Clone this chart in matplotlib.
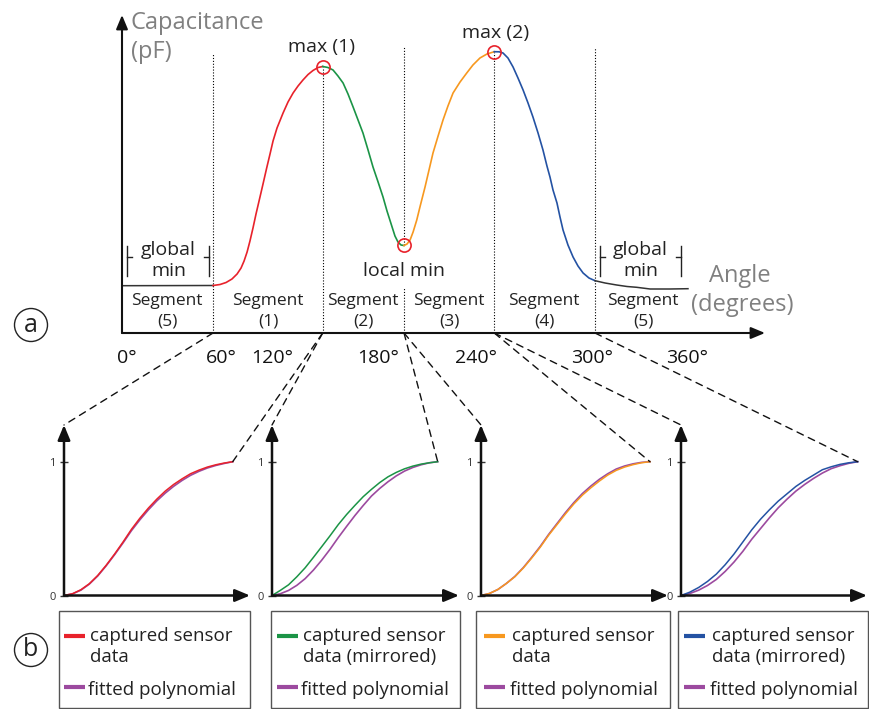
import matplotlib
matplotlib.use("Agg")
import matplotlib.pyplot as plt
from matplotlib.patches import Rectangle, Circle, ConnectionPatch

plt.rcParams['font.family'] = ['Open Sans', 'DejaVu Sans']

# ---- top chart: capacitance vs angle ----
seg5a_deg = [2.8, 60.0]
seg5a_cap = [4.73, 4.75]

seg1_deg = [60.0, 64.4, 68.2, 71.9, 75.1, 77.6, 79.5, 81.4, 83.2, 85.1, 87.0, 89.5, 91.4,
            93.7, 95.8, 97.7, 100.2, 104.0, 107.1, 110.3, 113.4, 116.5, 119.7, 122.8, 126.0, 128.9]
seg1_cap = [4.75, 4.85, 5.05, 5.4, 5.9, 6.5, 7.2, 8.1, 9.2, 10.5, 11.9, 13.6, 14.9,
            16.5, 17.9, 19.2, 20.5, 22.0, 23.1, 24.0, 24.7, 25.3, 25.85, 26.25, 26.55, 26.65]

seg2_deg = [128.9, 132.2, 135.4, 138.5, 141.7, 144.8, 148.0, 151.1, 154.2, 157.4, 160.5,
            163.7, 166.8, 169.3, 172.3, 174.3, 176.2, 178.1, 180.0]
seg2_cap = [26.65, 26.55, 26.3, 25.7, 25.0, 23.9, 22.6, 21.3, 20.0, 18.3, 16.6,
            15.1, 13.6, 12.2, 10.7, 9.7, 9.1, 8.8, 8.75]

seg3_deg = [180.0, 181.9, 183.8, 185.7, 188.0, 190.0, 193.2, 195.7, 198.2, 201.4, 204.5,
            207.6, 210.8, 215.2, 219.4, 223.3, 227.7, 232.1, 236.7]
seg3_cap = [8.75, 8.9, 9.3, 10.1, 11.3, 12.6, 14.6, 16.3, 18.0, 19.7, 21.3,
            22.7, 24.0, 25.1, 26.0, 26.8, 27.5, 27.9, 28.13]

seg4_deg = [236.7, 239.7, 242.2, 245.3, 248.5, 251.6, 254.8, 257.9, 261.0, 264.2, 267.3, 269.8,
            271.7, 273.6, 276.1, 278.0, 279.9, 283.0, 286.2, 289.3, 292.5, 296.2, 300.0]
seg4_cap = [28.13, 28.12, 28.0, 27.5, 26.6, 25.5, 24.3, 23.0, 21.6, 20.0, 18.3, 16.7,
            15.6, 14.3, 13.0, 11.6, 10.3, 8.8, 7.6, 6.7, 6.0, 5.5, 5.23]

seg5b_deg = [300.0, 306.3, 313.6, 320.1, 326.2, 334.6, 347.1, 358.4]
seg5b_cap = [5.23, 5.0, 4.8, 4.65, 4.57, 4.4, 4.4, 4.43]

extrema_deg = [128.9, 180.0, 236.7]
extrema_cap = [26.65, 8.75, 28.13]

bound_deg = [60.0, 128.9, 180.0, 236.7, 300.0]
bound_top = [28.0, 26.65, 28.6, 28.13, 28.6]

angle_labels = ['0°', '60°', '120°', '180°', '240°', '300°', '360°']
angle_label_px = [127, 221, 272, 378, 476, 592, 687]

seg_names = ['(5)', '(1)', '(2)', '(3)', '(4)', '(5)']
seg_label_px = [167, 268, 363, 449, 544, 643]

# ---- bottom panels: normalised segments ----
norm_x = [0, .05, .1, .15, .2, .25, .3, .35, .4, .45, .5,
          .55, .6, .65, .7, .75, .8, .85, .9, .95, 1.0]
p1_captured = [0, .013, .043, .088, .15, .226, .31, .40, .495, .578, .653,
               .72, .78, .83, .872, .91, .937, .96, .977, .99, 1]
p1_fitted = [0, .012, .04, .085, .146, .222, .305, .393, .485, .566, .64,
             .707, .765, .816, .86, .898, .928, .953, .972, .987, 1]
p2_captured = [0, .038, .08, .14, .207, .285, .365, .446, .53, .605, .673,
               .738, .793, .844, .887, .92, .947, .967, .982, .992, 1]
p2_fitted = [0, .013, .038, .076, .126, .19, .264, .345, .433, .516, .597,
             .672, .743, .80, .85, .894, .93, .957, .977, .992, 1]
p3_captured = [0, .015, .045, .09, .14, .205, .28, .36, .45, .53, .61,
               .685, .75, .805, .855, .90, .935, .96, .978, .992, 1]
p3_fitted = [0, .015, .045, .09, .142, .208, .285, .366, .456, .538, .62,
             .695, .762, .818, .868, .91, .945, .968, .984, .995, 1]
p4_captured = [0, .025, .06, .105, .16, .23, .31, .40, .49, .57, .64,
               .705, .76, .815, .86, .90, .94, .962, .98, .992, 1]
p4_fitted = [0, .015, .04, .075, .12, .18, .25, .33, .42, .50, .58,
             .655, .72, .78, .83, .875, .915, .948, .97, .988, 1]

RED = '#E8222B'
GREEN = '#1B9446'
ORANGE = '#F7981F'
BLUE = '#2452A3'
PURPLE = '#9C4A9F'
GREY = '#808080'

W, H = 870, 709
fig = plt.figure(figsize=(W / 100, H / 100), dpi=100)


def px_box(x0, y0, x1, y1):
    return [x0 / W, 1 - y1 / H, (x1 - x0) / W, (y1 - y0) / H]


def arrow_axes(ax, lw, scale):
    style = '-|>,head_length=0.6,head_width=0.25'
    for tip in [(1, 0), (0, 1)]:
        ax.annotate('', xy=tip, xytext=(0, 0), xycoords='axes fraction',
                    arrowprops=dict(arrowstyle=style, lw=lw, color='#111111',
                                    mutation_scale=scale, shrinkA=0, shrinkB=0))


# overlay in pixel coordinates for labels and boxes
ov = fig.add_axes([0, 0, 1, 1])
ov.set_xlim(0, W)
ov.set_ylim(H, 0)
ov.axis('off')

# ---- top chart ----
ax = fig.add_axes(px_box(122, 15, 765, 333))
ax.set_xlim(2.8, 406.8)
ax.set_ylim(0, 31.8)
ax.axis('off')
arrow_axes(ax, 1.5, 14)

dot = (0, (1, 1.6))
for i, (d, t) in enumerate(zip(bound_deg, bound_top)):
    if i == 2:
        ax.plot([d, d], [0, 4.6], color='k', lw=0.8, ls=dot)
        ax.plot([d, d], [8.75, t], color='k', lw=0.8, ls=dot)
    else:
        ax.plot([d, d], [0, t], color='k', lw=0.8, ls=dot)

ax.plot(seg5a_deg, seg5a_cap, color='#333333', lw=1.1)
ax.plot(seg1_deg, seg1_cap, color=RED, lw=1.2)
ax.plot(seg2_deg, seg2_cap, color=GREEN, lw=1.2)
ax.plot(seg3_deg, seg3_cap, color=ORANGE, lw=1.2)
ax.plot(seg4_deg, seg4_cap, color=BLUE, lw=1.2)
ax.plot(seg5b_deg, seg5b_cap, color='#333333', lw=1.1)
ax.plot(extrema_deg, extrema_cap, 'o', mfc='none', mec=RED, ms=9.5, mew=1.2)

ov.text(131, 29, 'Capacitance', color=GREY, fontsize=17, va='baseline')
ov.text(131, 58, '(pF)', color=GREY, fontsize=17, va='baseline')
ov.text(709, 282, 'Angle', color=GREY, fontsize=17, va='baseline')
ov.text(691, 311, '(degrees)', color=GREY, fontsize=17, va='baseline')

ov.text(322, 52, 'max (1)', fontsize=14, ha='center', va='baseline', color='#222222')
ov.text(496, 38, 'max (2)', fontsize=14, ha='center', va='baseline', color='#222222')
ov.text(404, 276, 'local min', fontsize=14, ha='center', va='baseline', color='#222222')

for cx, xl, xr in [(168, 127, 208.7), (640, 600.3, 681.3)]:
    ov.text(cx, 255, 'global', fontsize=14, ha='center', va='baseline', color='#222222')
    ov.text(cx + 1, 276.5, 'min', fontsize=14, ha='center', va='baseline', color='#222222')
    ov.plot([xl, xl], [246, 276], color='#222222', lw=1)
    ov.plot([xr, xr], [246, 276], color='#222222', lw=1)
    ov.plot([xl, xl + 5], [257, 257], color='#222222', lw=1)
    ov.plot([xr - 5, xr], [257, 257], color='#222222', lw=1)

for x, n in zip(seg_label_px, seg_names):
    ov.text(x, 305, 'Segment', fontsize=12.5, ha='center', va='baseline', color='#222222')
    ov.text(x, 326, n, fontsize=12.5, ha='center', va='baseline', color='#222222')

for x, lab in zip(angle_label_px, angle_labels):
    ov.text(x, 363, lab, fontsize=14, ha='center', va='baseline', color='#111111')

for cy, letter in [(325, 'a'), (650, 'b')]:
    ov.add_patch(Circle((31, cy), 16.5, fill=False, lw=1, ec='#222222'))
    ov.text(31, cy, letter, fontsize=18, ha='center', va='center', color='#222222')

# ---- bottom panels ----
panels = [
    (64, 232.7, 250, p1_captured, p1_fitted, RED),
    (272, 437.7, 459, p2_captured, p2_fitted, GREEN),
    (481, 650, 668, p3_captured, p3_fitted, ORANGE),
    (681, 857.7, 867, p4_captured, p4_fitted, BLUE),
]
y0_px, y1_px, ytip_px = 595.5, 461.7, 425
pax = []
for left, end, tip, cap, fit, col in panels:
    a = fig.add_axes(px_box(left, ytip_px, tip, y0_px))
    a.set_xlim(0, (tip - left) / (end - left))
    a.set_ylim(0, (y0_px - ytip_px) / (y0_px - y1_px))
    for s in a.spines.values():
        s.set_visible(False)
    a.set_xticks([])
    a.set_yticks([0, 1])
    a.set_yticklabels(['0', '1'])
    a.tick_params(axis='y', direction='inout', length=6, width=1, pad=3,
                  labelsize=8, labelcolor='#333333', color='#333333')
    a.patch.set_alpha(0)
    arrow_axes(a, 1.8, 15)
    a.plot(norm_x, fit, color=PURPLE, lw=1.2)
    a.plot(norm_x, cap, color=col, lw=1.1)
    pax.append(a)

# dashed connectors from segment borders to the panels
links = [(0, 0, 'top'), (1, 0, 'end'), (1, 1, 'top'), (2, 1, 'end'),
         (2, 2, 'top'), (3, 2, 'end'), (3, 3, 'top'), (4, 3, 'end')]
for b, p, where in links:
    a = pax[p]
    target = (0, a.get_ylim()[1]) if where == 'top' else (1, 1)
    con = ConnectionPatch(xyA=(bound_deg[b], 0), coordsA=ax.transData,
                          xyB=target, coordsB=a.transData,
                          color='#111111', lw=1, ls=(0, (5, 4)))
    fig.add_artist(con)

# legends
legend_boxes = [(59, 250, RED, 'data', 64, 90),
                (271, 460, GREEN, 'data (mirrored)', 277, 303),
                (476, 670, ORANGE, 'data', 484, 512),
                (678, 868, BLUE, 'data (mirrored)', 684, 712)]
for x0, x1, col, second, lx, tx in legend_boxes:
    ov.add_patch(Rectangle((x0, 611), x1 - x0, 97, fill=False, ec='#555555', lw=1))
    ov.plot([lx, lx + 21], [636, 636], color=col, lw=3, solid_capstyle='butt')
    ov.plot([lx, lx + 21], [687, 687], color=PURPLE, lw=3, solid_capstyle='butt')
    ov.text(tx, 641, 'captured sensor', fontsize=13.5, va='baseline', color='#222222')
    ov.text(tx, 662, second, fontsize=13.5, va='baseline', color='#222222')
    ov.text(tx - 2, 695, 'fitted polynomial', fontsize=13.5, va='baseline', color='#222222')

fig.savefig('out.png', dpi=100)
